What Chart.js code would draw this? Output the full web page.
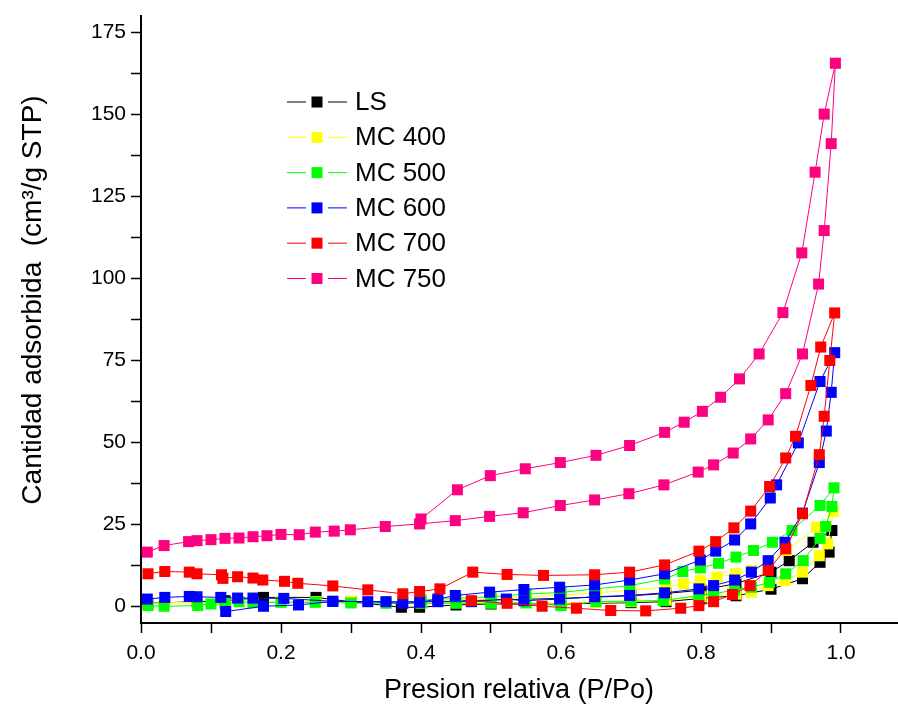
<!DOCTYPE html>
<html>
<head>
<meta charset="utf-8">
<script src="https://cdn.jsdelivr.net/npm/chart.js@4.4.1/dist/chart.umd.min.js"></script>
<style>
  html, body { margin: 0; padding: 0; background: #fff; }
  #wrap { width: 898px; height: 710px; }
</style>
</head>
<body>
<div id="wrap"><canvas id="isoChart" width="898" height="710"></canvas></div>
<script>
// Series names and colours
const seriesNames = ['LS', 'MC 400', 'MC 500', 'MC 600', 'MC 700', 'MC 750'];
const seriesColors = ['#000000', '#ffff00', '#00ff00', '#0000ff', '#ff0000', '#ff0080'];

// Tick labels
const xTickLabels = ['0.0', '0.2', '0.4', '0.6', '0.8', '1.0'];
const yTickLabels = ['0', '25', '50', '75', '100', '125', '150', '175'];

// LS: adsorption then desorption (P/Po, cm3/g)
const lsX = [0.010, 0.080, 0.120, 0.175, 0.250, 0.300, 0.372, 0.398, 0.450, 0.500, 0.600, 0.700, 0.750, 0.800, 0.850, 0.900, 0.945, 0.970, 0.983, 0.987,
             0.960, 0.926, 0.900, 0.850, 0.800, 0.750, 0.700, 0.600, 0.500, 0.400];
const lsY = [1.0, 1.5, 1.8, 2.8, 2.8, 1.5, -0.2, -0.2, 0.5, 0.8, 0.8, 1.2, 1.5, 2.5, 3.3, 5.3, 8.5, 13.5, 16.6, 23.2,
             19.6, 14.0, 10.5, 7.0, 5.0, 4.0, 3.3, 2.5, 2.0, 1.5];

// MC 400
const mc400X = [0.010, 0.033, 0.080, 0.120, 0.160, 0.200, 0.250, 0.300, 0.350, 0.400, 0.450, 0.500, 0.550, 0.600, 0.650, 0.700, 0.750, 0.800, 0.850, 0.872, 0.896, 0.920, 0.945, 0.969, 0.981, 0.989,
                0.965, 0.922, 0.872, 0.849, 0.823, 0.799, 0.775, 0.750, 0.700, 0.650, 0.600, 0.550, 0.500, 0.450, 0.400];
const mc400Y = [0.8, 1.2, 1.3, 1.0, 1.4, 1.5, 1.5, 1.6, 1.5, 1.4, 1.4, 1.3, 1.2, 1.0, 1.3, 1.5, 2.0, 3.0, 3.8, 4.4, 6.4, 7.9, 10.5, 15.5, 19.1, 29.0,
                24.2, 17.1, 11.0, 10.0, 9.0, 7.9, 6.9, 6.0, 5.0, 4.2, 3.5, 3.0, 2.5, 2.0, 1.5];

// MC 500
const mc500X = [0.010, 0.033, 0.081, 0.100, 0.120, 0.140, 0.160, 0.200, 0.249, 0.300, 0.350, 0.400, 0.450, 0.500, 0.550, 0.600, 0.650, 0.700, 0.746, 0.797, 0.818, 0.848, 0.872, 0.898, 0.921, 0.946, 0.970, 0.978, 0.987, 0.990,
                0.970, 0.930, 0.902, 0.875, 0.850, 0.825, 0.799, 0.774, 0.748, 0.698, 0.648, 0.600, 0.550, 0.500, 0.450, 0.400];
const mc500Y = [0.3, 0.1, 0.3, 0.8, 0.8, 1.5, 1.2, 1.3, 1.3, 1.1, 1.0, 1.0, 1.0, 1.0, 1.1, 0.3, 1.5, 1.7, 1.8, 3.4, 3.9, 5.1, 5.9, 7.4, 10.0, 14.0, 20.8, 24.4, 30.5, 36.2,
                30.8, 23.2, 19.6, 17.1, 15.1, 13.2, 11.8, 10.7, 8.4, 6.4, 5.4, 4.3, 3.8, 3.0, 2.5, 2.0];

// MC 600
const mc600X = [0.009, 0.034, 0.069, 0.080, 0.114, 0.138, 0.160, 0.204, 0.274, 0.324, 0.374, 0.398, 0.424, 0.449, 0.498, 0.547, 0.598, 0.648, 0.698, 0.748, 0.799, 0.821, 0.848, 0.871, 0.899, 0.908, 0.939, 0.970, 0.991,
                0.986, 0.979, 0.969, 0.945, 0.920, 0.896, 0.872, 0.848, 0.818, 0.797, 0.748, 0.698, 0.648, 0.598, 0.547, 0.522, 0.472, 0.424, 0.350, 0.274, 0.225, 0.175, 0.121];
const mc600Y = [2.3, 2.8, 3.1, 3.0, 2.8, 2.6, 2.6, 2.5, 1.6, 1.5, 1.0, 1.3, 2.3, 3.4, 4.4, 5.2, 5.9, 6.6, 8.1, 10.0, 14.2, 16.9, 20.3, 25.2, 33.1, 37.1, 49.9, 68.6, 77.4,
                65.3, 53.5, 43.9, 28.5, 19.6, 14.0, 10.5, 8.1, 6.4, 5.4, 4.2, 3.4, 3.0, 2.3, 1.8, 2.3, 1.5, 1.5, 1.5, 1.6, 0.5, 0.1, -1.5];

// MC 700
const mc700X = [0.010, 0.034, 0.069, 0.080, 0.115, 0.117, 0.138, 0.160, 0.174, 0.205, 0.224, 0.274, 0.324, 0.374, 0.398, 0.427, 0.474, 0.523, 0.575, 0.648, 0.698, 0.748, 0.797, 0.821, 0.847, 0.871, 0.898, 0.921, 0.935, 0.957, 0.971, 0.991,
                0.984, 0.976, 0.969, 0.945, 0.921, 0.896, 0.870, 0.845, 0.818, 0.797, 0.771, 0.721, 0.671, 0.622, 0.573, 0.523, 0.472];
const mc700Y = [10.0, 10.7, 10.5, 10.0, 9.7, 8.6, 9.1, 8.7, 8.1, 7.7, 7.1, 6.3, 5.1, 3.9, 4.6, 5.4, 10.5, 9.8, 9.5, 9.7, 10.5, 12.7, 16.9, 19.8, 24.0, 29.1, 36.6, 45.3, 51.9, 67.4, 79.1, 89.5,
                75.0, 58.0, 46.3, 28.3, 17.6, 11.0, 6.4, 3.7, 1.5, 0.3, -0.5, -1.3, -1.2, -0.5, 0.1, 1.0, 1.8];

// MC 750
const mc750X = [0.009, 0.033, 0.068, 0.080, 0.100, 0.120, 0.140, 0.160, 0.180, 0.200, 0.226, 0.249, 0.276, 0.299, 0.349, 0.398, 0.449, 0.498, 0.546, 0.599, 0.648, 0.697, 0.747, 0.796, 0.818, 0.846, 0.871, 0.896, 0.921, 0.945, 0.968, 0.976, 0.986, 0.992,
                0.976, 0.963, 0.944, 0.917, 0.883, 0.855, 0.828, 0.802, 0.776, 0.748, 0.698, 0.650, 0.599, 0.549, 0.499, 0.452, 0.400];
const mc750Y = [16.6, 18.6, 19.8, 20.1, 20.4, 20.8, 20.9, 21.3, 21.6, 22.0, 21.9, 22.7, 23.0, 23.4, 24.4, 25.2, 26.2, 27.5, 28.6, 30.8, 32.5, 34.4, 37.1, 41.0, 43.2, 46.8, 51.1, 56.9, 64.9, 77.0, 98.3, 114.6, 141.1, 165.6,
                150.1, 132.4, 107.8, 89.6, 77.0, 69.4, 63.8, 59.5, 56.2, 53.1, 49.1, 46.1, 43.9, 42.0, 39.9, 35.6, 26.7];

const allX = [lsX, mc400X, mc500X, mc600X, mc700X, mc750X];
const allY = [lsY, mc400Y, mc500Y, mc600Y, mc700Y, mc750Y];

function toPoints(xs, ys) {
    return xs.map((x, i) => ({ x: x, y: ys[i] }));
}

const datasets = seriesNames.map((name, i) => ({
    label: name,
    data: toPoints(allX[i], allY[i]),
    borderColor: seriesColors[i],
    backgroundColor: seriesColors[i],
    borderWidth: 1,
    showLine: true,
    pointStyle: 'rect',
    pointRadius: 7.8,
    pointBorderWidth: 0,
    order: seriesNames.length - i   // later series painted on top
}));

const fontFamily = '"Liberation Sans", Arial, sans-serif';

// Chart.js keeps a few px free on the right; stretch the x axis to the edge like the original
const stretchPlugin = {
    id: 'stretchX',
    afterLayout(chart) {
        const x = chart.scales.x;
        x.right = 897;
        x.width = x.right - x.left;
        x.configure();
        chart.chartArea.right = 897;
        chart.chartArea.width = 897 - chart.chartArea.left;
    }
};

// Legend drawn like Origin: line - square - line, then text.
// Also the y title, placed by hand so it sits where the original does.
const extrasPlugin = {
    id: 'originExtras',
    afterDraw(chart) {
        const c = chart.ctx;
        c.save();
        c.font = '26px ' + fontFamily;
        c.textBaseline = 'middle';
        seriesNames.forEach((name, i) => {
            const y = 102 + i * 35.3;
            c.strokeStyle = seriesColors[i];
            c.lineWidth = 1;
            c.beginPath();
            c.moveTo(287, y); c.lineTo(306, y);
            c.moveTo(328, y); c.lineTo(347, y);
            c.stroke();
            c.fillStyle = seriesColors[i];
            c.fillRect(311.5, y - 5.5, 11, 11);
            c.fillStyle = '#000';
            c.fillText(name, 355, y + 1);
        });

        c.translate(33, 300);
        c.rotate(-Math.PI / 2);
        c.font = '28px ' + fontFamily;
        c.textAlign = 'center';
        c.fillText('Cantidad adsorbida  (cm³/g STP)', 0, 0);
        c.restore();
    }
};

let ctx = document.getElementById('isoChart').getContext('2d');
let isoChart = new Chart(ctx, {
    type: 'scatter',
    data: { datasets: datasets },
    options: {
        responsive: false,
        animation: false,
        events: [],
        layout: { padding: { top: 16, right: 0, left: 0, bottom: 0 } },
        plugins: { legend: { display: false }, tooltip: { enabled: false } },
        scales: {
            x: {
                type: 'linear',
                min: 0,
                max: 1.08,
                afterFit: (s) => { s.height = 87; s.paddingRight = 0; s.paddingLeft = 0; },
                border: { display: true, color: '#000', width: 2 },
                grid: { drawOnChartArea: false, drawTicks: true, tickLength: 10, tickColor: '#000', tickWidth: 1.5 },
                ticks: {
                    stepSize: 0.1,
                    includeBounds: false,
                    autoSkip: false,
                    maxRotation: 0,
                    padding: 8,
                    color: '#000',
                    font: { family: fontFamily, size: 21 },
                    callback: (v) => {
                        const k = Math.round(v * 10);
                        return k % 2 === 0 ? xTickLabels[k / 2] : '';
                    }
                },
                title: {
                    display: true,
                    text: 'Presion relativa (P/Po)',
                    color: '#000',
                    font: { family: fontFamily, size: 27 },
                    padding: { top: 3, bottom: 3 }
                }
            },
            y: {
                type: 'linear',
                min: -5,
                max: 180,
                afterFit: (s) => { s.width = 141; s.paddingTop = 0; s.paddingBottom = 0; },
                border: { display: true, color: '#000', width: 2 },
                grid: { drawOnChartArea: false, drawTicks: true, tickLength: 10, tickColor: '#000', tickWidth: 1.5 },
                ticks: {
                    stepSize: 12.5,
                    includeBounds: false,
                    autoSkip: false,
                    padding: 5,
                    color: '#000',
                    font: { family: fontFamily, size: 21 },
                    callback: (v) => {
                        const k = Math.round(v / 12.5);
                        return k % 2 === 0 ? yTickLabels[k / 2] : '';
                    }
                },
                title: { display: false }
            }
        }
    },
    plugins: [stretchPlugin, extrasPlugin]
});
</script>
</body>
</html>
